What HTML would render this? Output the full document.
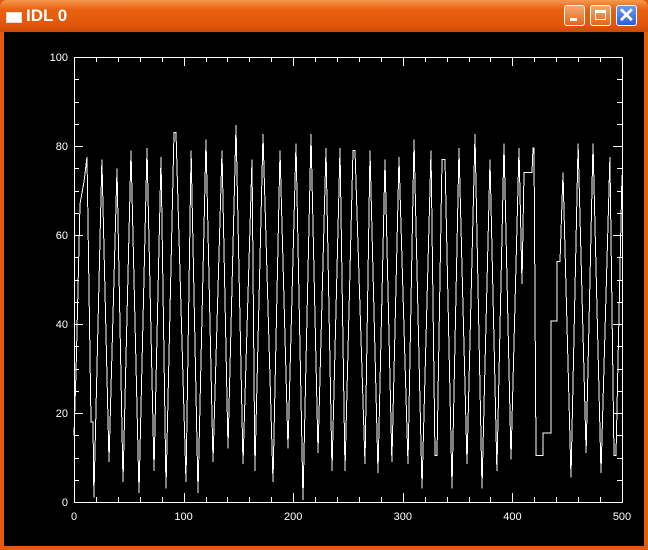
<!DOCTYPE html>
<html><head><meta charset="utf-8"><style>
html,body{margin:0;padding:0;width:648px;height:550px;overflow:hidden;background:#000;font-family:"Liberation Sans",sans-serif}
#win{position:absolute;left:0;top:0;width:648px;height:550px;background:#e35b0c}
#title{position:absolute;left:0;top:0;width:648px;height:32px;background:linear-gradient(#f59a4e,#e8610f 30%,#e0560a 80%,#c94a06);border-radius:7px 7px 0 0}
#ttext{position:absolute;left:26px;top:6px;color:#fff;font-weight:bold;font-size:17px}
#ticon{position:absolute;left:6px;top:12px;width:14px;height:9px;background:#fff;border:1px solid #ddd}
.btn{position:absolute;top:5px;width:21px;height:21px;border:1px solid #fff;border-radius:3px;box-sizing:border-box}
#content{position:absolute;left:4px;top:32px;width:640px;height:514px;background:#000}
</style></head><body>
<div id="win">
<div id="title">
<div id="ticon"></div>
<div id="ttext">IDL 0</div>
<div class="btn" style="left:564px;background:linear-gradient(#f7a870,#e4661a)"><div style="position:absolute;left:5px;top:12px;width:7px;height:3px;background:#fff"></div></div>
<div class="btn" style="left:590px;background:linear-gradient(#f7a870,#e4661a)"><div style="position:absolute;left:4px;top:4px;width:11px;height:10px;border:1px solid #fff;border-top-width:3px;box-sizing:border-box"></div></div>
<div class="btn" style="left:616px;background:linear-gradient(#6a9af5,#2a5fd8)"><div style="position:absolute;left:1px;top:-3px;color:#fff;font-size:20px;font-weight:bold">✕</div></div>
</div>
<div id="content"></div>
</div>
<svg id="chart" width="648" height="550" style="position:absolute;left:0;top:0"></svg>
<script>
const xs=[0,1.8,5.5,9.1,11.9,15.5,17.3,18.2,25.5,31.9,39.2,44.7,52,59.3,66.6,73,79.4,83.9,91.2,93.1,102.2,106.8,113.1,120.4,126.8,135,140.5,147.8,154.2,162.4,165.1,172.4,181.6,188,195.3,202.6,208.9,216.2,222.6,229.9,235.4,242.7,247.3,254.6,256.4,265.5,270.1,277.4,283.8,290.1,296.5,304.7,310.2,317.5,325.7,329.4,331.2,335.8,338.5,344.9,351.3,358.6,365.9,372.3,379.6,385.9,392.3,398.7,406,408.8,410.6,417.9,418.8,419.7,421.5,427.9,427.9,435.2,435.2,440.7,440.7,443.4,446.2,453.5,459.9,467.2,473.5,480.8,489,492.7,494.5,500];
const ys=[15,29,67,72,77.5,18,18,1,77,9,75,4.5,79,2,79.5,7,77.5,3,83,83,4.5,79,2,81.5,9,79,12,84.7,8.5,77,7,82.7,4.5,79,12,80.6,0.5,82.7,11,79.5,7,79.5,7,79,79,8.5,79,6.5,77,9,77.5,8.5,81.5,3,79,10.5,10.5,77,77,3,79.5,8.5,82.7,3,77,7,80.6,9.5,79.5,49,74,74,79.5,79.5,10.5,10.5,15.5,15.5,40.7,40.7,54,54,74,5.5,80.6,11,80.6,6.5,77.5,10.5,10.5,73.5];
const xTicks=[0,100,200,300,400,500];
const yTicks=[0,20,40,60,80,100];
const X0=74,X1=622,Y0=502,Y1=57;
const sx=v=>X0+(v-0)/500*(X1-X0);
const sy=v=>Y0-(v-0)/100*(Y0-Y1);
const svg=document.getElementById('chart');
const NS='http://www.w3.org/2000/svg';
function mk(t,a){const e=document.createElementNS(NS,t);for(const k in a)e.setAttribute(k,a[k]);svg.appendChild(e);return e;}
const box=mk('rect',{x:X0+0.5,y:Y1+0.5,width:X1-X0,height:Y0-Y1,fill:'none',stroke:'#fff','stroke-width':1});


for(let v=0;v<=500;v+=20){const major=v%100===0,L=major?9:5,x=Math.round(sx(v))+0.5;
const t1=mk('line',{x1:x,x2:x,y1:Y0,y2:Y0-L,stroke:'#fff'});


const t2=mk('line',{x1:x,x2:x,y1:Y1,y2:Y1+L,stroke:'#fff'});

}
for(let v=0;v<=100;v+=5){const major=v%20===0,L=major?9:5,y=Math.round(sy(v))+0.5;
const t1=mk('line',{x1:X0,x2:X0+L,y1:y,y2:y,stroke:'#fff'});


const t2=mk('line',{x1:X1,x2:X1-L,y1:y,y2:y,stroke:'#fff'});

}
xTicks.forEach(v=>{const t=mk('text',{x:sx(v),y:Y0+18,fill:'#fff','font-size':11,'text-anchor':'middle','font-family':'Liberation Sans, sans-serif'});t.textContent=v;

});
yTicks.forEach(v=>{const t=mk('text',{x:X0-6,y:sy(v)+4,fill:'#fff','font-size':11,'text-anchor':'end','font-family':'Liberation Sans, sans-serif'});t.textContent=v;

});
const pts=xs.map((x,i)=>sx(x).toFixed(1)+','+sy(ys[i]).toFixed(1)).join(' ');
const line=mk('polyline',{points:pts,fill:'none',stroke:'#fff','stroke-width':1,'shape-rendering':'crispEdges'});


</script>
</body></html>
